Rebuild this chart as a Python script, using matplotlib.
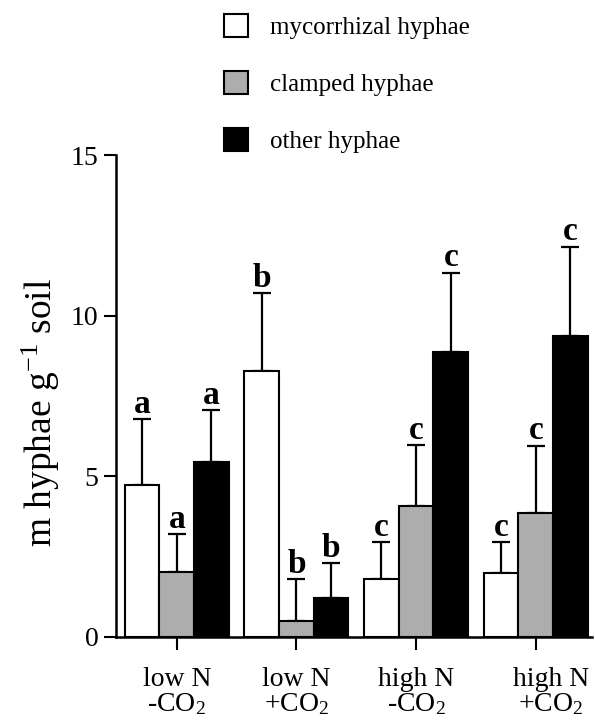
import matplotlib
matplotlib.use("Agg")
import matplotlib.pyplot as plt
import matplotlib.transforms as mtransforms
import numpy as np

plt.rcParams["font.family"] = ["Liberation Serif", "DejaVu Serif"]
plt.rcParams["mathtext.fontset"] = "custom"
plt.rcParams["mathtext.rm"] = "Liberation Serif"
plt.rcParams["mathtext.it"] = "Liberation Serif:italic"
plt.rcParams["mathtext.bf"] = "Liberation Serif:bold"

groups = ["low N\n-CO$_2$", "low N\n+CO$_2$", "high N\n-CO$_2$", "high N\n+CO$_2$"]
series = ["mycorrhizal hyphae", "clamped hyphae", "other hyphae"]

mycorrhizal = [4.72, 8.28, 1.80, 1.98]
clamped = [2.00, 0.50, 4.06, 3.85]
other = [5.43, 1.21, 8.88, 9.37]

mycorrhizal_err = [2.05, 2.41, 1.15, 0.96]
clamped_err = [1.19, 1.29, 1.91, 2.10]
other_err = [1.63, 1.08, 2.46, 2.77]

letters_myc = ["a", "b", "c", "c"]
letters_cla = ["a", "b", "c", "c"]
letters_oth = ["a", "b", "c", "c"]

values = [mycorrhizal, clamped, other]
errors = [mycorrhizal_err, clamped_err, other_err]
letters = [letters_myc, letters_cla, letters_oth]
colors = ["white", "#adadad", "black"]

fig = plt.figure(figsize=(5.95, 7.24), dpi=100)
ax = fig.add_axes([0.1945, 0.1206, 0.8005, 0.6653])

x = np.arange(len(groups))
w = 0.29
handles = []
for k in range(3):
    xs = x + (k - 1) * w
    b = ax.bar(xs, values[k], w, color=colors[k], edgecolor="black",
               linewidth=1.5, label=series[k], zorder=2)
    handles.append(b)
    ax.errorbar(xs, values[k], yerr=[np.zeros(4), errors[k]], fmt="none",
                ecolor="black", elinewidth=1.6, capsize=6.5, capthick=1.6,
                zorder=1)
    for i in range(4):
        top = values[k][i] + errors[k][i]
        ax.text(xs[i], top + 0.2, letters[k][i], ha="center", va="baseline",
                fontsize=24, fontweight="bold", clip_on=False)

ax.set_xlim(-0.51, 3.47)
ax.set_ylim(0, 15)
ax.set_yticks([0, 5, 10, 15])
ax.set_xticks(x)
ax.set_xticklabels(groups, fontsize=20, linespacing=0.95)
ax.tick_params(axis="y", labelsize=20, length=9, width=1.5, direction="out")
ax.tick_params(axis="x", length=9, width=1.5, direction="out", pad=13)
ax.set_ylabel("m hyphae g$^{-1}$ soil", fontsize=27, va="center")
ax.yaxis.set_label_coords(-0.157, 0.466)

for s in ["top", "right"]:
    ax.spines[s].set_visible(False)
for s in ["left", "bottom"]:
    ax.spines[s].set_linewidth(1.8)

# last label sits a bit to the right in the original
lab = ax.get_xticklabels()[-1]
lab.set_transform(lab.get_transform() + mtransforms.ScaledTranslation(0.15, 0, fig.dpi_scale_trans))

fig.legend(handles=handles, labels=series, loc="upper left",
           bbox_to_anchor=(224 / 595, 1 - 14 / 724), frameon=False,
           fontsize=18, handlelength=0.95, handleheight=1.05,
           handletextpad=0.9, labelspacing=1.27, borderpad=0, borderaxespad=0)

fig.savefig("out.png", dpi=100)
